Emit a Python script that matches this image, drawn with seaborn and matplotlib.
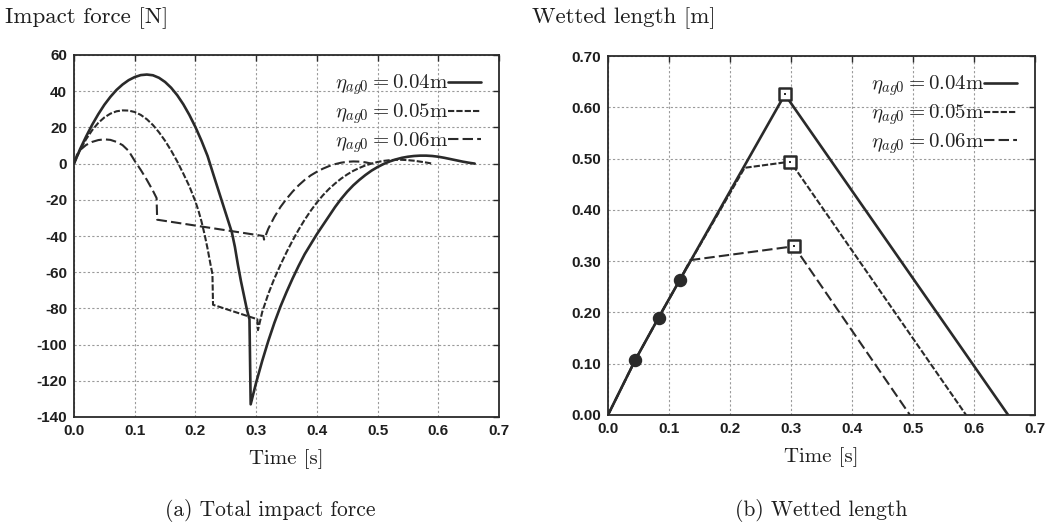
import matplotlib
matplotlib.use("Agg")
import matplotlib.pyplot as plt
import seaborn as sns
import pandas as pd
from matplotlib.ticker import FixedLocator, FormatStrFormatter

# ---------------- data ----------------
series_labels = [r"$\eta_{ag0} = 0.04\mathrm{m}$",
                 r"$\eta_{ag0} = 0.05\mathrm{m}$",
                 r"$\eta_{ag0} = 0.06\mathrm{m}$"]

# Total impact force [N] versus time [s]
force_t_04 = [0, .01, .02, .03, .04, .05, .06, .07, .08, .09, .10, .11, .12, .13, .14, .15,
              .16, .17, .18, .19, .20, .21, .22, .23, .24, .25, .26, .265, .27, .275, .28,
              .285, .289, .291, .30, .31, .32, .33, .34, .35, .36, .37, .38, .39, .40, .41,
              .42, .43, .44, .45, .46, .47, .48, .49, .50, .51, .52, .53, .54, .55, .56, .57,
              .58, .59, .60, .61, .62, .63, .64, .65, .66]
force_v_04 = [0, 8, 15, 21.5, 27.3, 32.5, 36.9, 40.7, 43.7, 46.1, 47.8, 48.9, 49.2, 48.8, 47.4,
              45.1, 41.9, 37.8, 32.8, 26.9, 20.2, 12.6, 4.2, -6.5, -17, -27.5, -38, -46, -56,
              -65, -73, -81, -86, -133, -121, -109, -98, -88, -79, -71, -63.5, -56.5, -50,
              -44.5, -39, -34, -29, -24, -19.5, -15.5, -12, -9, -6.3, -3.9, -1.9, -0.2, 1.2,
              2.3, 3.2, 3.8, 4.2, 4.4, 4.4, 4.2, 3.8, 3.2, 2.5, 1.8, 1.1, 0.5, 0]

force_t_05 = [0, .01, .02, .03, .04, .05, .06, .07, .08, .09, .10, .11, .12, .13, .14, .15,
              .16, .17, .18, .19, .20, .205, .21, .215, .22, .225, .228, .229, .302, .303,
              .31, .32, .33, .34, .35, .36, .37, .38, .39, .40, .41, .42, .43, .44, .45, .46,
              .47, .48, .49, .50, .51, .52, .53, .54, .55, .56, .57, .58, .59]
force_v_05 = [0, 7.5, 13.5, 18.5, 22.5, 25.5, 27.6, 28.9, 29.4, 29.3, 28.5, 26.9, 24.5, 21.3,
              17.3, 12.6, 7.2, 1.2, -5.5, -12.5, -21, -26, -32, -39, -47, -56, -61, -78, -86,
              -92, -82, -72, -63.5, -56, -49, -42.5, -36.5, -31, -26, -21.5, -17.5, -14, -11,
              -8.3, -6, -4, -2.4, -1, 0, 0.9, 1.5, 1.9, 2.1, 2.1, 1.9, 1.6, 1.1, 0.6, 0]

force_t_06 = [0, .005, .01, .02, .03, .04, .05, .06, .07, .08, .09, .10, .11, .12, .13, .136,
              .137, .312, .313, .32, .33, .34, .35, .36, .37, .38, .39, .40, .41, .42, .43,
              .44, .45, .46, .47, .48, .49]
force_v_06 = [0, 5, 7.5, 10.3, 12, 13, 13.4, 13.1, 12, 10.2, 7, 1.5, -3.5, -9, -15, -19, -31,
              -40, -42, -36, -29.5, -24, -19.5, -15.5, -12, -9, -6.5, -4.5, -2.8, -1.4, -0.3,
              0.5, 1, 1.2, 1.1, 0.7, 0]

# Wetted length [m] versus time [s]
len_t_04 = [0, .045, .083, .118, .290, .656]
len_v_04 = [0, .108, .190, .264, .625, 0]
len_t_05 = [0, .045, .083, .118, .224, .299, .587]
len_v_05 = [0, .108, .190, .264, .482, .494, 0]
len_t_06 = [0, .045, .083, .118, .135, .305, .495]
len_v_06 = [0, .108, .190, .264, .302, .329, 0]

circle_t = [.045, .083, .118]
circle_len = [.108, .190, .264]
peak_t = [.290, .299, .305]
peak_len = [.625, .494, .329]

x_ticks = [0.0, 0.1, 0.2, 0.3, 0.4, 0.5, 0.6, 0.7]
force_ticks = [60, 40, 20, 0, -20, -40, -60, -80, -100, -120, -140]
len_ticks = [0.0, 0.1, 0.2, 0.3, 0.4, 0.5, 0.6, 0.7]

# ---------------- style ----------------
sns.set_style("white")
plt.rcParams["font.family"] = ["Liberation Sans", "DejaVu Sans"]
plt.rcParams["mathtext.fontset"] = "cm"
plt.rcParams["axes.unicode_minus"] = False

INK = "#2a2a2a"
SERIF = "cmr10"
dash_styles = ["-", (0, (3, 1)), (0, (5, 2))]
widths = [1.9, 1.5, 1.5]

fig = plt.figure(figsize=(10.49, 5.32), dpi=100)
ax1 = fig.add_axes([74 / 1049, (532 - 417) / 532, 425 / 1049, 362 / 532])
ax2 = fig.add_axes([608 / 1049, (532 - 415) / 532, 427 / 1049, 359 / 532])


def draw_series(ax, ts, vs):
    for i, (t, v) in enumerate(zip(ts, vs)):
        df = pd.DataFrame({"t": t, "v": v})
        sns.lineplot(data=df, x="t", y="v", ax=ax, sort=False, estimator=None,
                     color=INK, linewidth=widths[i], linestyle=dash_styles[i],
                     label=series_labels[i])


draw_series(ax1, [force_t_04, force_t_05, force_t_06],
            [force_v_04, force_v_05, force_v_06])
draw_series(ax2, [len_t_04, len_t_05, len_t_06],
            [len_v_04, len_v_05, len_v_06])

# point markers on the wetted-length curves
sns.scatterplot(x=circle_t, y=circle_len, ax=ax2, marker="o", s=75, color=INK,
                edgecolor=INK, linewidth=1, zorder=5, legend=False)
sns.scatterplot(x=peak_t, y=peak_len, ax=ax2, marker="s", s=65, facecolor="white",
                edgecolor=INK, linewidth=1.8, zorder=5, legend=False)
sns.scatterplot(x=peak_t, y=peak_len, ax=ax2, marker="s", s=3, color=INK,
                linewidth=0, zorder=6, legend=False)


def style_axes(ax, yticks, ylim, yfmt):
    ax.set_xlim(0, 0.7)
    ax.set_ylim(*ylim)
    ax.xaxis.set_major_locator(FixedLocator(x_ticks))
    ax.yaxis.set_major_locator(FixedLocator(yticks))
    ax.xaxis.set_major_formatter(FormatStrFormatter("%.1f"))
    ax.yaxis.set_major_formatter(FormatStrFormatter(yfmt))
    ax.grid(True, color="#9a9a9a", linestyle=(0, (2, 2)), linewidth=0.8)
    ax.set_axisbelow(True)
    for sp in ax.spines.values():
        sp.set_color(INK)
        sp.set_linewidth(1.3)
        sp.set_visible(True)
    ax.tick_params(axis="both", direction="in", length=4, width=1, color=INK,
                   labelsize=11, labelcolor="#1e1e1e", pad=5, top=True, right=True)
    for lab in ax.get_xticklabels() + ax.get_yticklabels():
        lab.set_fontweight("bold")
    ax.set_ylabel("")
    ax.set_xlabel("Time [s]", fontsize=15, family=SERIF, color="#1e1e1e", va="center")
    ax.xaxis.set_label_coords(0.5, -42 / ax.bbox.height * 1.0)
    leg = ax.legend(loc="upper right", frameon=False, markerfirst=False,
                    handlelength=1.6, handletextpad=0.0, labelspacing=0.2,
                    fontsize=15, borderaxespad=0.45)
    for txt in leg.get_texts():
        txt.set_color("#222222")


style_axes(ax1, force_ticks, (-140, 60), "%d")
style_axes(ax2, len_ticks, (0, 0.7), "%.2f")

fig.text(5 / 1049, 1 - 18 / 532, "Impact force [N]", family=SERIF, fontsize=16.5,
         va="center", ha="left", color="#1e1e1e")
fig.text(532 / 1049, 1 - 18 / 532, "Wetted length [m]", family=SERIF, fontsize=16.5,
         va="center", ha="left", color="#1e1e1e")
fig.text(270 / 1049, 1 - 510 / 532, "(a) Total impact force", family=SERIF,
         fontsize=15.5, va="center", ha="center", color="#1e1e1e")
fig.text(821.5 / 1049, 1 - 510 / 532, "(b) Wetted length", family=SERIF,
         fontsize=15.5, va="center", ha="center", color="#1e1e1e")

fig.savefig("out.png", dpi=100)
